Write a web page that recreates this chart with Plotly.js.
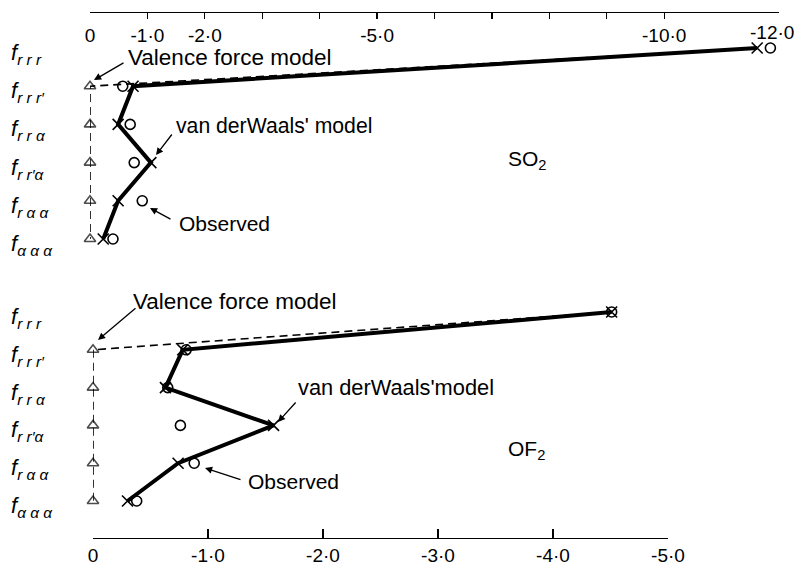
<!DOCTYPE html>
<html>
<head>
<meta charset="utf-8">
<script src="https://cdn.plot.ly/plotly-3.0.1.min.js"></script>
<style>html,body{margin:0;padding:0;background:#fff;}#chart{width:795px;height:566px;}</style>
</head>
<body>
<div id="chart"></div>
<script>
// Force-constant labels (rows, top to bottom)
const rowLabels = [
  '<i>f</i><sub><i>r r r</i></sub>',
  '<i>f</i><sub><i>r r r′</i></sub>',
  '<i>f</i><sub><i>r r α</i></sub>',
  '<i>f</i><sub><i>r r′α</i></sub>',
  '<i>f</i><sub><i>r α α</i></sub>',
  '<i>f</i><sub><i>α α α</i></sub>'
];
const rowIndex = [0, 1, 2, 3, 4, 5];

// SO2 panel values
const so2Valence = [-11.62, 0, 0, 0, 0, 0];
const so2VdW     = [-11.62, -0.75, -0.49, -1.06, -0.49, -0.23];
const so2Obs     = [-11.85, -0.57, -0.70, -0.77, -0.91, -0.40];

// OF2 panel values
const of2Valence = [-4.51, 0, 0, 0, 0, 0];
const of2VdW     = [-4.51, -0.78, -0.63, -1.57, -0.74, -0.30];
const of2Obs     = [-4.51, -0.81, -0.65, -0.76, -0.88, -0.38];

// Axis ticks
const so2TickVals = [0, -1, -2, -3, -4, -5, -6, -7, -8, -9, -10, -12];
const so2TickText = ['0', '-1·0', '-2·0', '', '', '-5·0', '', '', '', '', '-10·0', '-12·0'];
const of2TickVals = [0, -1, -2, -3, -4, -5];
const of2TickText = ['0', '-1·0', '-2·0', '-3·0', '-4·0', '-5·0'];

const W = 795, H = 566;
const px = x => x / W;
const py = y => 1 - y / H;
const FONT = 'Liberation Sans, Arial, sans-serif';

const triSizes = [0, 10, 10, 10, 10, 10];

function panel(valence, vdw, obs, xa, ya) {
  return [
    {x: valence, y: rowIndex, xaxis: xa, yaxis: ya, mode: 'lines+markers', cliponaxis: false,
     line: {color: '#000', width: 1.6, dash: '8px,5px'},
     marker: {symbol: 'triangle-up-open', size: triSizes, color: '#000', line: {width: 1.6, color: '#000'}},
     hoverinfo: 'skip'},
    {x: vdw, y: rowIndex, xaxis: xa, yaxis: ya, mode: 'lines', cliponaxis: false,
     line: {color: '#000', width: 4}, hoverinfo: 'skip'},
    {x: vdw, y: rowIndex, xaxis: xa, yaxis: ya, mode: 'markers', cliponaxis: false,
     marker: {symbol: 'x-thin-open', size: 11, color: '#000', line: {width: 1.6, color: '#000'}},
     hoverinfo: 'skip'},
    {x: obs, y: rowIndex, xaxis: xa, yaxis: ya, mode: 'markers', cliponaxis: false,
     marker: {symbol: 'circle-open', size: 10, color: '#000', line: {width: 1.6, color: '#000'}},
     hoverinfo: 'skip'}
  ];
}

const data = panel(so2Valence, so2VdW, so2Obs, 'x', 'y')
  .concat(panel(of2Valence, of2VdW, of2Obs, 'x2', 'y2'));

// panel geometry (pixels): rows at r + s*i, plot top/bottom
const r1 = 48, s1 = 38.2, top1 = 13, bot1 = 260;
const r2 = 312, s2 = 37.8, top2 = 290, bot2 = 538;

function textAnn(text, x, y, size) {
  return {text: text, x: px(x), y: py(y), xref: 'paper', yref: 'paper', showarrow: false,
          xanchor: 'left', yanchor: 'middle', font: {family: FONT, size: size || 21, color: '#000'}};
}
function arrowAnn(tx, ty, hx, hy) {
  return {text: '', x: px(hx), y: py(hy), xref: 'paper', yref: 'paper', showarrow: true,
          ax: tx - hx, ay: ty - hy, axref: 'pixel', ayref: 'pixel',
          arrowhead: 2, arrowsize: 1.1, arrowwidth: 1.3, arrowcolor: '#000'};
}
function rowAnn(i, yref) {
  return {text: rowLabels[i], x: px(9), y: rowIndex[i], xref: 'paper', yref: yref, showarrow: false,
          xanchor: 'left', yanchor: 'middle', yshift: -6,
          font: {family: FONT, size: 22, color: '#000'}};
}

// the last top-axis label sits at the page edge, so it is drawn as an annotation at its tick
const lastIdx = so2TickVals.length - 1;
const so2AxisText = so2TickText.map((t, i) => i === lastIdx ? '' : t);

const annotations = [
  textAnn('Valence force model', 126, 57, 22.5),
  arrowAnn(125, 62, 94, 80),
  textAnn("van derWaals' model", 174, 125, 21.2),
  arrowAnn(173, 133, 156, 155),
  textAnn('Observed', 177, 223, 21),
  arrowAnn(172, 220, 150, 208),
  textAnn('SO<sub>2</sub>', 506, 160, 21),
  textAnn('Valence force model', 131, 301, 22.5),
  arrowAnn(137, 307, 98, 340),
  textAnn("van derWaals'model", 296, 387, 21.8),
  arrowAnn(297, 401, 278, 422),
  textAnn('Observed', 246, 482, 21),
  arrowAnn(242, 480, 205, 468),
  textAnn('OF<sub>2</sub>', 506, 450, 21),
  {text: so2TickText[lastIdx], x: so2TickVals[lastIdx], xref: 'x', y: py(33), yref: 'paper',
   showarrow: false, xanchor: 'center', yanchor: 'middle', xshift: -7,
   font: {family: FONT, size: 19, color: '#000'}}
].concat(rowIndex.map(i => rowAnn(i, 'y')), rowIndex.map(i => rowAnn(i, 'y2')));

const yCommon = {showgrid: false, zeroline: false, showline: false, ticks: '',
  tickvals: rowIndex, showticklabels: false, fixedrange: true};

const layout = {
  width: W, height: H,
  margin: {l: 0, r: 0, t: 0, b: 0},
  paper_bgcolor: '#fff', plot_bgcolor: 'rgba(0,0,0,0)',
  showlegend: false,
  font: {family: FONT, color: '#000'},
  xaxis: {domain: [px(90), px(779)], range: [0, -12], side: 'top', anchor: 'y',
    showline: true, linecolor: '#000', linewidth: 1.3, showgrid: false, zeroline: false,
    ticks: 'inside', ticklen: 6, tickwidth: 1.2, tickcolor: '#000',
    tickvals: so2TickVals, ticktext: so2AxisText, ticklabelposition: 'inside',
    ticklabeloverflow: 'allow', ticklabelstandoff: 11,
    tickfont: {family: FONT, size: 19, color: '#000'}},
  yaxis: Object.assign({}, yCommon, {domain: [py(bot1), py(top1)], anchor: 'x',
    range: [(bot1 - r1) / s1, (top1 - r1) / s1]}),
  xaxis2: {domain: [px(93), px(668)], range: [0, -5], side: 'bottom', anchor: 'y2',
    showline: true, linecolor: '#000', linewidth: 1.3, showgrid: false, zeroline: false,
    ticks: 'inside', ticklen: 9, tickwidth: 1.2, tickcolor: '#000',
    tickvals: of2TickVals, ticktext: of2TickText,
    tickfont: {family: FONT, size: 19, color: '#000'}},
  yaxis2: Object.assign({}, yCommon, {domain: [py(bot2), py(top2)], anchor: 'x2',
    range: [(bot2 - r2) / s2, (top2 - r2) / s2]}),
  annotations: annotations
};

Plotly.newPlot('chart', data, layout, {staticPlot: true, displayModeBar: false});
</script>
</body>
</html>
